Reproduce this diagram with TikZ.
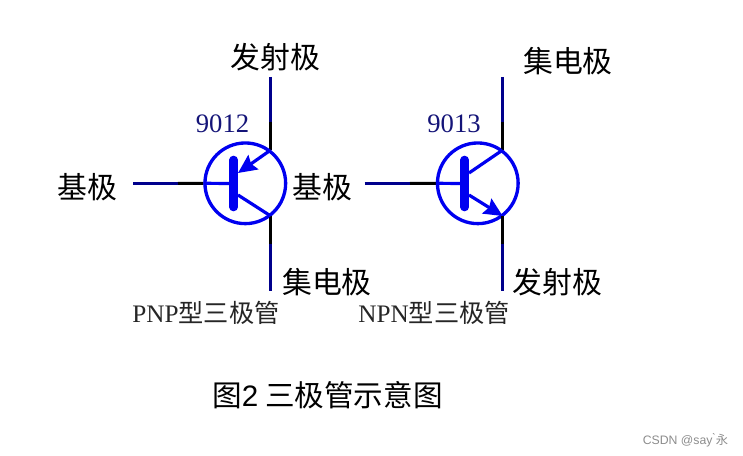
\documentclass[tikz,border=0pt]{standalone}
\usepackage{fontspec}
\setmainfont{Liberation Serif}
\newfontfamily\cjk{Noto Sans CJK SC}
\newfontfamily\arial{Liberation Sans}
\usetikzlibrary{arrows.meta}
\definecolor{wirenavy}{RGB}{0,0,140}
\definecolor{tblue}{RGB}{0,0,240}
\definecolor{partnavy}{RGB}{20,20,120}
\tikzset{
  x=0.75pt,y=-0.75pt,
  wireouter/.style={draw=wirenavy,line width=2.25pt},
  wireinner/.style={draw=black,line width=2.25pt},
  tube/.style={circle,draw=tblue,line width=2.5pt,minimum size=60.5pt,inner sep=0pt},
  bar/.style={draw=tblue,line width=6.5pt,line cap=round},
  lead/.style={draw=tblue,line width=2.4pt},
  arrowlead/.style={draw=tblue,line width=2.4pt,-{Stealth[length=14pt,width=13pt,inset=2pt]}},
  elabel/.style={font=\cjk\fontsize{22.4}{24}\selectfont,inner sep=0pt,text=black},
  partno/.style={font=\fontsize{20}{22}\selectfont,inner sep=0pt,text=partnavy},
  kind/.style={font=\fontsize{18.9}{22}\selectfont,inner sep=0pt,text=black!85},
}
\begin{document}
\begin{tikzpicture}
\useasboundingbox (0,0) rectangle (743,456);
% PNP
\coordinate (pT) at (270.7,77);
\coordinate (pTm) at (270.7,122);
\coordinate (pC) at (270.7,150);
\coordinate (pE) at (270.7,216);
\coordinate (pBm) at (270.7,244);
\coordinate (pB) at (270.7,291);
\coordinate (pL) at (133,183.5);
\coordinate (pLm) at (178,183.5);
\coordinate (pbT) at (233.7,160);
\coordinate (pbM) at (233.7,183.5);
\coordinate (pbB) at (233.7,207);
\coordinate (pa1) at (238,173);
\coordinate (pa2) at (238,195);
\node[tube] (ptube) at (245.3,183.3) {};
\draw[wireouter] (pT) -- (pTm);
\draw[wireinner] (pTm) -- (pC);
\draw[wireinner] (pE) -- (pBm);
\draw[wireouter] (pBm) -- (pB);
\draw[wireouter] (pL) -- (pLm);
\draw[wireinner] (pLm) -- (ptube.west);
\draw[lead] (ptube.west) -- (pbM);
\draw[bar] (pbT) -- (pbB);
\draw[arrowlead] (pC) -- (pa1);
\draw[lead] (pa2) -- (pE);
% NPN
\coordinate (nT) at (502.7,77);
\coordinate (nTm) at (502.7,122);
\coordinate (nC) at (502.7,150);
\coordinate (nE) at (502.7,216);
\coordinate (nBm) at (502.7,244);
\coordinate (nB) at (502.7,291);
\coordinate (nL) at (364.7,183.5);
\coordinate (nLm) at (410,183.5);
\coordinate (nbT) at (464.7,160);
\coordinate (nbM) at (464.7,183.5);
\coordinate (nbB) at (464.7,207);
\coordinate (na1) at (469,173);
\coordinate (na2) at (469,195);
\node[tube] (ntube) at (477.8,183.3) {};
\draw[wireouter] (nT) -- (nTm);
\draw[wireinner] (nTm) -- (nC);
\draw[wireinner] (nE) -- (nBm);
\draw[wireouter] (nBm) -- (nB);
\draw[wireouter] (nL) -- (nLm);
\draw[wireinner] (nLm) -- (ntube.west);
\draw[lead] (ntube.west) -- (nbM);
\draw[bar] (nbT) -- (nbB);
\draw[lead] (nC) -- (na1);
\draw[arrowlead] (na2) -- (nE);
% labels
\node[elabel] (l1) at (275.5,57.5) {发射极};
\node[elabel] (l2) at (87.5,187.5) {基极};
\node[elabel] (l3) at (322,187.5) {基极};
\node[elabel] (l4) at (327,282.5) {集电极};
\node[elabel] (l5) at (568,61) {集电极};
\node[elabel] (l6) at (557.5,282.5) {发射极};
\node[partno] (n1) at (222.5,124) {9012};
\node[partno] (n2) at (454,124) {9013};
\node[kind] (k1) at (206,313) {PNP{\cjk 型三极管}};
\node[kind] (k2) at (434,313) {NPN{\cjk 型三极管}};
\node[font=\cjk\fontsize{22.2}{24}\selectfont,inner sep=0pt] (cap) at (327.5,395.5) {图{\arial 2} 三极管示意图};
\node[font=\arial\fontsize{9.2}{10}\selectfont,text=black!45,inner sep=0pt] (wm) at (685.5,440) {CSDN @say{\`{}}{\cjk 永}};
\end{tikzpicture}
\end{document}
